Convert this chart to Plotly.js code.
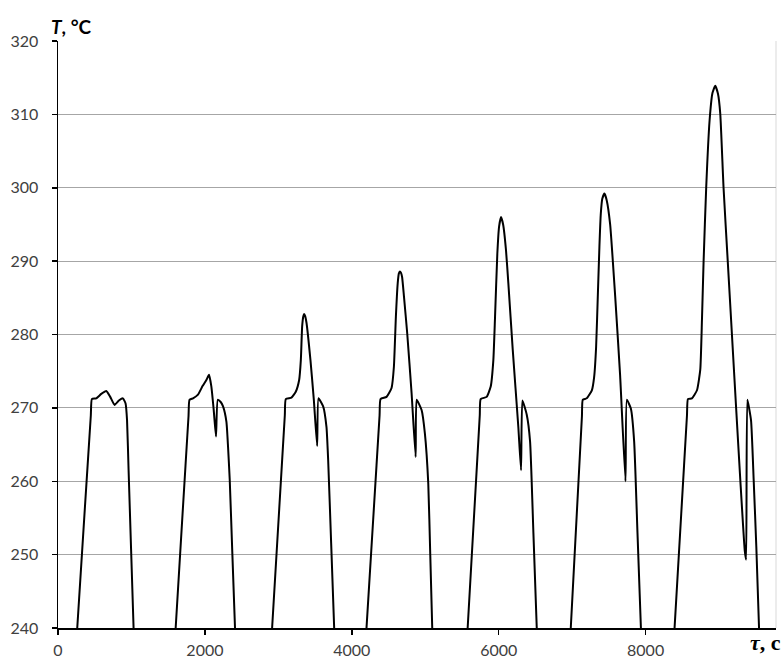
<!DOCTYPE html>
<html>
<head>
<meta charset="utf-8">
<script src="https://cdn.plot.ly/plotly-3.0.1.min.js"></script>
<style>html,body{margin:0;padding:0;background:#fff;}#chart{width:783px;height:660px;}</style>
</head>
<body>
<div id="chart"></div>
<script>
// Time, s (τ) and temperature, °C (T) for each cycle
const cycle1_time = [262, 361, 447, 461, 520, 589, 657, 711, 770, 829, 884, 920, 940, 961, 995, 1029];
const cycle1_temp = [240, 255.6, 269.0, 271.2, 271.3, 271.9, 272.3, 271.5, 270.4, 271.0, 271.3, 270.6, 268.3, 261.5, 250.7, 240];

const cycle2_time = [1602, 1696, 1777, 1790, 1838, 1906, 1970, 2020, 2056, 2088, 2120, 2151, 2175, 2215, 2247, 2293, 2315, 2338, 2374, 2410];
const cycle2_temp = [240, 255.6, 268.9, 271.1, 271.3, 271.8, 273.0, 273.8, 274.5, 272.9, 269.7, 266.1, 271.1, 270.8, 270.2, 268.1, 264.7, 260.2, 250.0, 240];

const cycle3_time = [2915, 3008, 3088, 3101, 3178, 3237, 3283, 3306, 3324, 3340, 3351, 3365, 3383, 3437, 3483, 3528, 3546, 3610, 3655, 3678, 3719, 3760];
const cycle3_temp = [240, 255.6, 269.0, 271.2, 271.4, 272.2, 273.8, 276.5, 281.1, 282.5, 282.8, 282.5, 281.6, 276.5, 271.1, 264.8, 271.3, 270.2, 267.4, 262.9, 251.5, 240];

const cycle4_time = [4200, 4296, 4378, 4391, 4473, 4541, 4573, 4600, 4625, 4640, 4655, 4670, 4685, 4710, 4754, 4814, 4869, 4882, 4950, 4995, 5041, 5068, 5095];
const cycle4_temp = [240, 255.6, 269.0, 271.2, 271.5, 272.7, 275.6, 282.4, 287.0, 288.3, 288.6, 288.4, 287.8, 285.2, 280.2, 272.0, 263.3, 271.1, 269.7, 266.5, 259.7, 250.0, 240];

const cycle5_time = [5577, 5666, 5742, 5754, 5836, 5891, 5927, 5950, 5981, 6005, 6031, 6060, 6099, 6131, 6191, 6267, 6304, 6322, 6381, 6427, 6472, 6518];
const cycle5_temp = [240, 255.6, 269.0, 271.2, 271.5, 272.9, 276.5, 282.4, 291.0, 294.7, 296.0, 295.0, 291.5, 287.0, 277.9, 267.4, 261.5, 271.0, 269.1, 265.4, 253.0, 240];

const cycle6_time = [6981, 7063, 7133, 7144, 7199, 7268, 7299, 7326, 7349, 7371, 7390, 7410, 7440, 7470, 7517, 7585, 7653, 7726, 7744, 7799, 7844, 7889, 7936];
const cycle6_temp = [240, 255.6, 268.9, 271.1, 271.3, 272.4, 274.2, 278.3, 285.2, 292.0, 296.5, 298.5, 299.2, 298.3, 295.0, 285.3, 274.4, 260.0, 271.1, 269.9, 265.4, 253.0, 240];

const cycle7_time = [8394, 8485, 8563, 8576, 8630, 8699, 8744, 8767, 8789, 8825, 8871, 8910, 8948, 8985, 9016, 9061, 9118, 9175, 9232, 9290, 9350, 9368, 9385, 9435, 9471, 9507, 9544];
const cycle7_temp = [240, 255.6, 269.0, 271.2, 271.3, 272.4, 275.2, 282.0, 289.9, 300.1, 309.2, 312.9, 313.9, 312.8, 310.1, 300.0, 290.0, 280.0, 270.0, 260.0, 250.5, 249.3, 271.1, 268.3, 260.2, 251.1, 240];

const xTicks = [0, 2000, 4000, 6000, 8000];
const yTicks = [240, 250, 260, 270, 280, 290, 300, 310, 320];

const cycles = [
  [cycle1_time, cycle1_temp], [cycle2_time, cycle2_temp], [cycle3_time, cycle3_temp],
  [cycle4_time, cycle4_temp], [cycle5_time, cycle5_temp], [cycle6_time, cycle6_temp],
  [cycle7_time, cycle7_temp]
];

const traces = cycles.map(c => ({
  x: c[0], y: c[1], type: 'scatter', mode: 'lines',
  line: {color: '#000000', width: 2, shape: 'spline', smoothing: 0.45},
  showlegend: false, hoverinfo: 'skip', cliponaxis: true
}));

const tickFont = {family: 'Lato, "Open Sans", sans-serif', size: 16, color: '#404040'};

const layout = {
  width: 783, height: 660,
  margin: {l: 58, r: 7, t: 41, b: 32},
  paper_bgcolor: '#ffffff', plot_bgcolor: '#ffffff',
  showlegend: false,
  xaxis: {
    range: [0, 9775], tickvals: xTicks, ticktext: xTicks.map(String),
    showgrid: false, zeroline: false, showline: true, linecolor: '#000000', linewidth: 1.5,
    ticks: 'outside', ticklen: 5, tickwidth: 1.5, tickcolor: '#000000',
    tickfont: tickFont, ticklabelstandoff: 2
  },
  yaxis: {
    range: [240, 320], tickvals: yTicks, ticktext: yTicks.map(String),
    showgrid: true, gridcolor: '#a6a6a6', gridwidth: 1, zeroline: false,
    showline: true, linecolor: '#000000', linewidth: 1.5,
    ticks: 'outside', ticklen: 5, tickwidth: 1.5, tickcolor: '#000000',
    tickfont: tickFont, ticklabelstandoff: 10
  },
  shapes: [
    {type: 'line', xref: 'paper', yref: 'paper', x0: 1, x1: 1, y0: 0, y1: 1,
     line: {color: '#d9d9d9', width: 1}, layer: 'below'}
  ],
  annotations: [
    {text: '<b><i>T</i>, °C</b>', xref: 'paper', yref: 'paper', x: -0.0119, y: 1.024,
     xanchor: 'left', yanchor: 'middle', showarrow: false,
     font: {family: 'Lato, "Open Sans", sans-serif', size: 19, color: '#000000'}},
    {text: '<b><i>τ</i>, с</b>', xref: 'paper', yref: 'paper', x: 1.0095, y: -0.025,
     xanchor: 'right', yanchor: 'middle', showarrow: false,
     font: {family: '"Liberation Serif", "DejaVu Serif", serif', size: 22, color: '#000000'}}
  ]
};

Plotly.newPlot('chart', traces, layout, {staticPlot: true, displayModeBar: false});
</script>
</body>
</html>
